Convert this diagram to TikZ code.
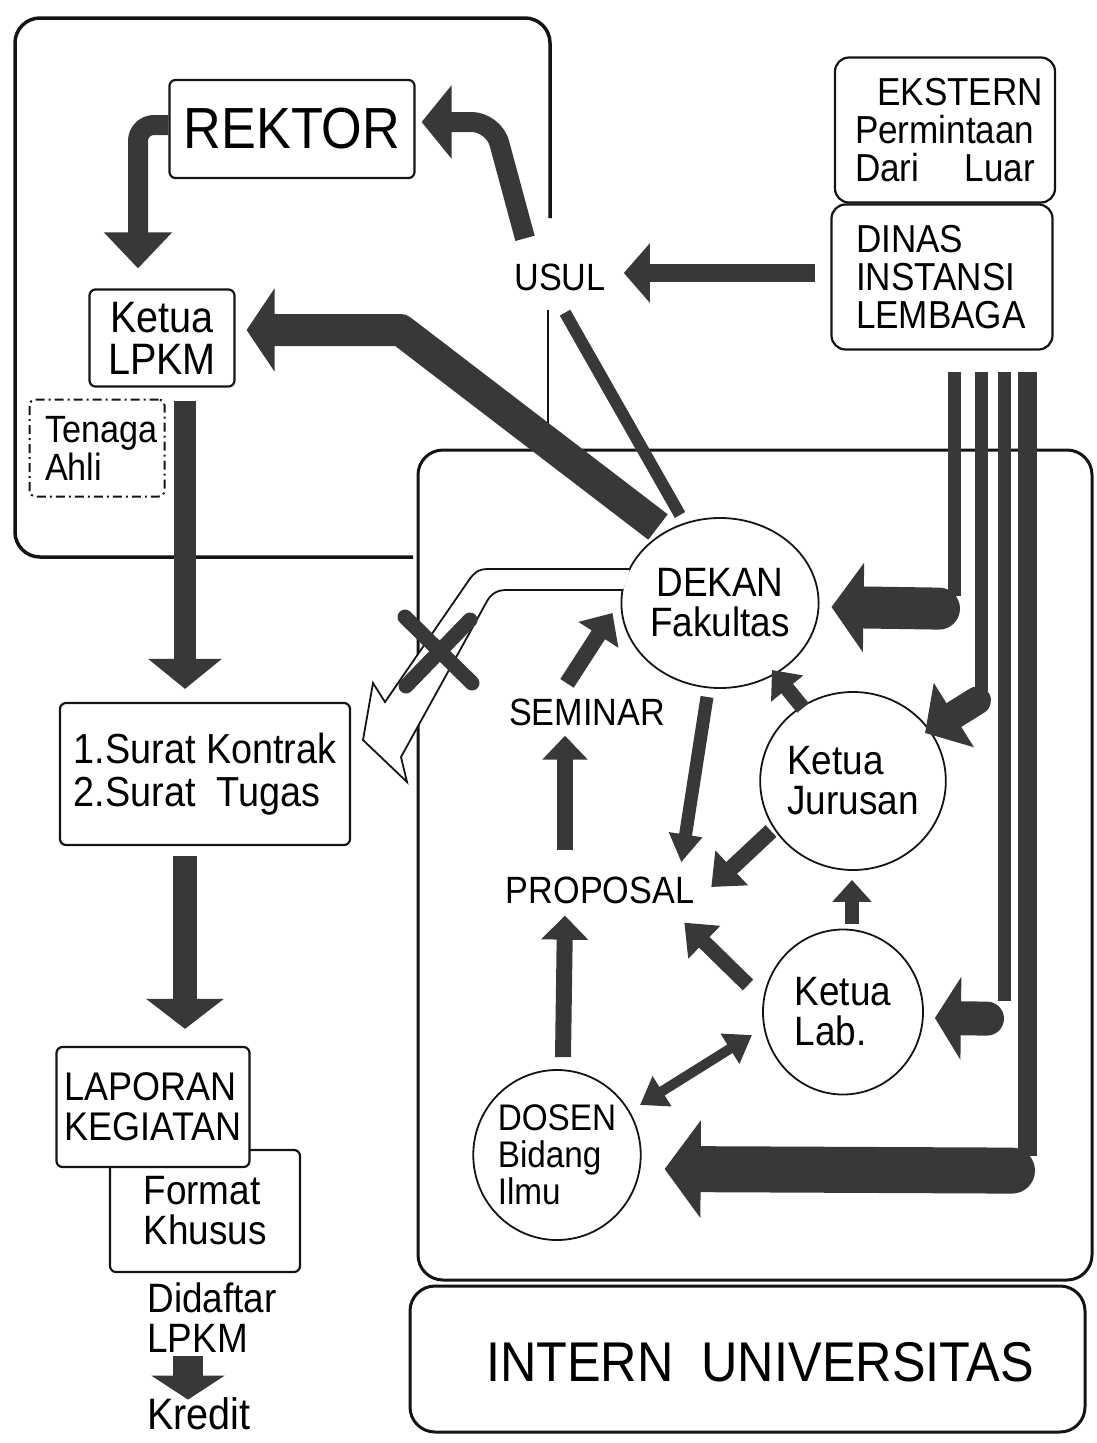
\documentclass[tikz,border=0pt]{standalone}
\usepackage{fontspec}
\setmainfont{Liberation Sans}[FakeStretch=0.9]
\usetikzlibrary{arrows.meta,shapes.geometric,calc}
\definecolor{ink}{gray}{0.08}
\definecolor{arrowgray}{gray}{0.22}
\newcommand{\fsz}[2]{\fontsize{#1pt}{#2pt}\selectfont}
\begin{document}
\begin{tikzpicture}[x=1pt,y=-1pt,
  box/.style={draw=ink, line width=2.2pt, rounded corners=6pt, inner sep=0pt, align=center},
  dashbox/.style={draw=ink, line width=2pt, dash pattern=on 9pt off 4pt on 2pt off 4pt, rounded corners=6pt, inner sep=0pt, align=left},
  txt/.style={inner sep=0pt, align=left},
  circ/.style={draw=ink, line width=1.8pt, ellipse, inner sep=0pt, align=left},
  frame/.style={draw=ink, line width=3pt, rounded corners=25pt},
  blk/.style={draw=arrowgray, line join=round}]
\useasboundingbox (0,0) rectangle (1097,1443);

% frames
\draw[ink, line width=3.5pt, rounded corners=25pt] (413,557) -- (15,557) -- (15,18) -- (550,18) -- (550,218);
\draw[ink, line width=2.5pt] (548,310) -- (548,452);
\draw[frame] (418,450) rectangle (1092,1280);
\draw[frame] (410,1286) rectangle (1085,1432);

% boxes
\node[box, minimum width=245pt, minimum height=98pt, font=\fsz{58}{58}] (rektor) at (292,129) {REKTOR};
\node[box, minimum width=145pt, minimum height=97pt, font=\fsz{44}{42}] (lpkm) at (162,338) {Ketua\\LPKM};
\node[dashbox, minimum width=135pt, minimum height=97pt, text width=104pt, font=\fsz{38}{38}] (tenaga) at (97,448) {Tenaga\\Ahli};
\node[box, minimum width=290pt, minimum height=142pt, align=left, font=\fsz{42}{43}] (surat) at (205,774) {1.Surat Kontrak\\2.Surat\ \ Tugas};
\node[box, minimum width=190pt, minimum height=122pt, align=left, font=\fsz{41}{40}] (format) at (205,1211) {Format\\Khusus};
\node[box, fill=white, minimum width=193pt, minimum height=120pt, align=left, font=\fsz{40}{40}] (laporan) at (153,1107) {LAPORAN\\KEGIATAN};
\node[txt, font=\fsz{41}{40}] (didaftar) at (212,1318) {Didaftar\\LPKM};
\node[txt, font=\fsz{44}{44}] (kredit) at (199,1414) {Kredit};

\node[box, rounded corners=14pt, minimum width=220pt, minimum height=145pt, text width=196pt, align=right, font=\fsz{39}{38}] (ekstern) at (945,130) {EKSTERN\\\leavevmode\hbox to 188pt{Permintaan\hfill}\\\leavevmode\hbox to 188pt{Dari\hfill Luar\hspace*{8pt}}};
\node[box, rounded corners=14pt, minimum width=221pt, minimum height=145pt, text width=172pt, align=left, font=\fsz{39}{38}] (dinas) at (942,277) {DINAS\\INSTANSI\\LEMBAGA};

\node[txt, font=\fsz{38}{38}] (usul) at (560,277) {USUL};
\node[txt, font=\fsz{38}{38}] (seminar) at (587,712) {SEMINAR};
\node[txt, font=\fsz{38}{38}] (proposal) at (600,890) {PROPOSAL};

\node[circ, align=center, minimum width=160pt, minimum height=170pt, font=\fsz{41}{40}] (dekan) at (720,603) {DEKAN\\Fakultas};
\node[circ, minimum width=150pt, minimum height=178pt, font=\fsz{41}{40}] (jurusan) at (853,781) {Ketua\\Jurusan};
\node[circ, minimum width=160pt, minimum height=165pt, font=\fsz{41}{40}] (lab) at (843,1012) {Ketua\\Lab.};
\node[circ, minimum width=160pt, minimum height=170pt, font=\fsz{37}{37}] (dosen) at (557,1155) {DOSEN\\Bidang\\Ilmu};

\node[txt, font=\fsz{56}{56}] (intern) at (760,1362) {INTERN\ \ UNIVERSITAS};

% left column arrows
\draw[blk, line width=20pt, rounded corners=16pt, -{Triangle[length=36pt,width=66pt]}] ($(rektor.west)+(0,-4)$) -| ($(lpkm.north)+(-24,-20)$);
\draw[blk, line width=22pt, -{Triangle[length=30pt,width=72pt]}] ($(lpkm.south)+(23,13)$) -- ($(surat.north)+(-20,-13)$);
\draw[blk, line width=24pt, -{Triangle[length=30pt,width=76pt]}] ($(surat.south)+(-20,10)$) -- ($(laporan.north)+(32,-17)$);
\draw[blk, line width=30pt, -{Triangle[length=24pt,width=72pt]}] ($(didaftar.south)+(-24,3)$) -- ($(kredit.north)+(-11,2)$);

% usul / rektor / dinas
\draw[blk, line width=20pt, rounded corners=22pt, -{Triangle[length=30pt,width=72pt]}] ($(usul.north)+(-35,-25)$) -- ($(rektor.east)+(78,-7)$) -- ($(rektor.east)+(6,-7)$);
\draw[blk, line width=18pt, -{Triangle[length=26pt,width=58pt]}] ($(dinas.west)+(-15,-4)$) -- ($(usul.east)+(18,-4)$);
\draw[blk, line width=32pt, -{Triangle[length=28pt,width=82pt]}] ($(dekan.center)+(-62,-76)$) -- ($(lpkm.east)+(165,-8)$) -- ($(lpkm.east)+(11,-8)$);
\draw[blk, line width=12pt] ($(usul.south)+(5,22)$) -- ($(dekan.center)+(-40,-88)$);

% hollow crossed arrow
\draw[ink, line width=1.8pt, fill=white] (630,569) -- (488,569) .. controls (478,569) and (474,573) .. (469,580) -- (385,702) -- (373,683) -- (363,740) -- (407,782) -- (401,757) -- (486,603) .. controls (490,595) and (496,590) .. (506,590) -- (623,590);
\draw[arrowgray, line width=15pt, line cap=round] (405,617) -- (472,683);
\draw[arrowgray, line width=15pt, line cap=round] (470,620) -- (406,686);

% inner arrows
\draw[blk, line width=16pt, -{Triangle[length=26pt,width=46pt]}] ($(seminar.north)+(-20,-15)$) -- ($(dekan.west)+(-8,10)$);
\draw[blk, line width=16pt, -{Triangle[length=24pt,width=44pt]}] ($(proposal.north)+(-35,-26)$) -- ($(seminar.south)+(-22,10)$);
\draw[blk, line width=16pt, -{Triangle[length=24pt,width=46pt]}] ($(dosen.north)+(6,-12)$) -- ($(proposal.south)+(-35,12)$);
\draw[blk, line width=13pt, -{Triangle[length=28pt,width=32pt]}] ($(dekan.south)+(-13,8)$) -- ($(proposal.north east)+(-13,-14)$);
\draw[blk, line width=16pt, -{Triangle[length=28pt,width=46pt]}] ($(jurusan.center)+(-82,50)$) -- ($(proposal.east)+(17,-3)$);
\draw[blk, line width=15pt, -{Triangle[length=24pt,width=40pt]}] ($(jurusan.center)+(-50,-73)$) -- ($(dekan.center)+(52,67)$);
\draw[blk, line width=14pt, -{Triangle[length=22pt,width=38pt]}] ($(lab.north)+(9,-5)$) -- ($(jurusan.south)+(-1,9)$);
\draw[blk, line width=15pt, -{Triangle[length=28pt,width=44pt]}] ($(lab.center)+(-95,-27)$) -- ($(proposal.south east)+(-10,19)$);
\draw[blk, line width=10pt, {Triangle[length=26pt,width=34pt]}-{Triangle[length=26pt,width=34pt]}] ($(lab.center)+(-91,23)$) -- ($(dosen.center)+(83,-50)$);

% bands from DINAS
\draw[blk, line width=13pt] ($(dinas.south)+(12,21)$) -- ($(dinas.south)+(12,245)$);
\draw[blk, line width=42pt, line cap=round, -{Triangle[length=32pt,width=88pt]}] ($(dinas.south)+(-3,258)$) -- ($(dekan.east)+(12,4)$);
\draw[blk, line width=13pt] ($(dinas.south)+(39,21)$) -- ($(dinas.south)+(39,340)$);
\draw[blk, line width=28pt, line cap=round, -{Triangle[length=34pt,width=74pt]}] ($(dinas.south)+(35,350)$) -- ($(jurusan.center)+(72,-48)$);
\draw[blk, line width=13pt] ($(dinas.south)+(62,21)$) -- ($(dinas.south)+(62,650)$);
\draw[blk, line width=34pt, line cap=round, -{Triangle[length=26pt,width=82pt]}] ($(dinas.south)+(45,668)$) -- ($(lab.east)+(11,6)$);
\draw[blk, line width=19pt] ($(dinas.south)+(85,21)$) -- ($(dinas.south)+(85,805)$);
\draw[blk, line width=46pt, line cap=round, -{Triangle[length=36pt,width=96pt]}] ($(dinas.south)+(70,820)$) -- ($(dosen.east)+(23,14)$);
\end{tikzpicture}
\end{document}
